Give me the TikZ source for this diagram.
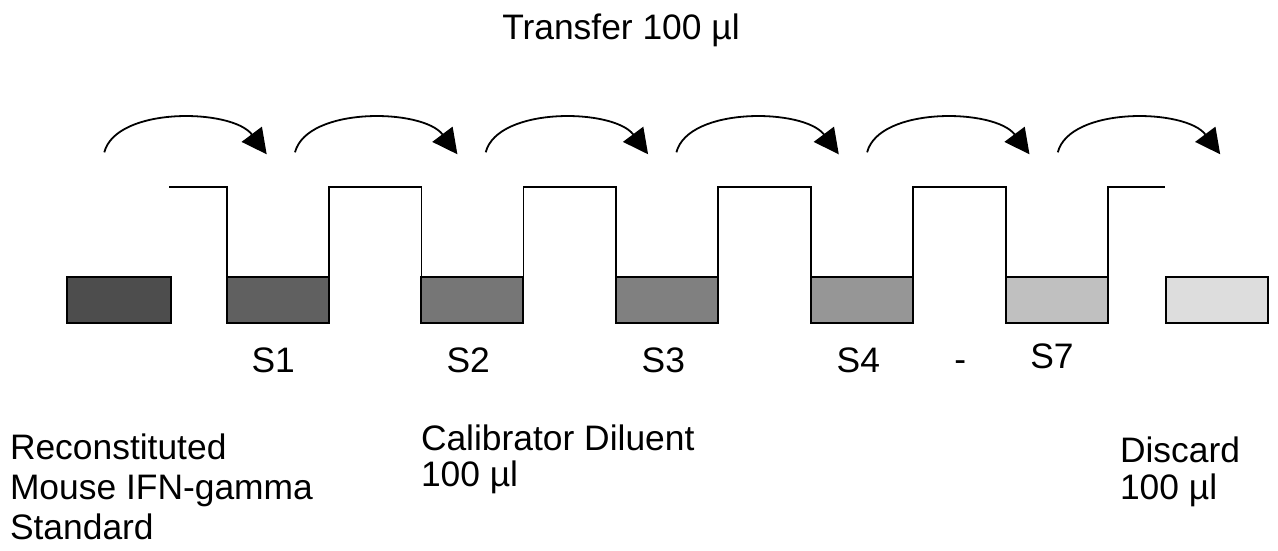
\documentclass[tikz,border=0pt]{standalone}
\usepackage{fontspec}
\setmainfont{Liberation Sans}
\usetikzlibrary{arrows.meta}
\definecolor{c0}{HTML}{4D4D4D}
\definecolor{c1}{HTML}{606060}
\definecolor{c2}{HTML}{767676}
\definecolor{c3}{HTML}{808080}
\definecolor{c4}{HTML}{969696}
\definecolor{c5}{HTML}{C0C0C0}
\definecolor{c6}{HTML}{DDDDDD}
\begin{document}
\begin{tikzpicture}[x=1pt,y=-1pt,
  tube/.style={draw=black, line width=2pt, minimum width=102pt, minimum height=45.4pt, inner sep=0pt, outer sep=0pt},
  well/.style={line width=1.8pt, line join=miter},
  transfer/.style={line width=1.8pt, -{Triangle[length=25pt,width=25pt]}},
  lbl/.style={font=\fontsize{35.4}{40}\selectfont, inner sep=0pt, outer sep=0pt},
  lbltight/.style={lbl, font=\fontsize{35.4}{36.5}\selectfont}]
\useasboundingbox[fill=white] (0,0) rectangle (1278,551);
% tubes
\node[tube, fill=c0, minimum width=103.4pt] (b0) at (119,300) {};
\node[tube, fill=c1] (b1) at (277.7,300) {};
\node[tube, fill=c2] (b2) at (472.4,300) {};
\node[tube, fill=c3] (b3) at (667.2,300) {};
\node[tube, fill=c4] (b4) at (861.9,300) {};
\node[tube, fill=c5] (b5) at (1056.7,300) {};
\node[tube, fill=c6] (b6) at (1217,300) {};
% well outline
\coordinate (w0) at (169.3,186.7);
\coordinate (w1) at (1165,186.7);
\draw[well] (w0) -| (b1.north west) -- (b1.north east) -- (b1.north east |- w0)
  -| (b2.north west) -- (b2.north east) -- (b2.north east |- w0)
  -| (b3.north west) -- (b3.north east) -- (b3.north east |- w0)
  -| (b4.north west) -- (b4.north east) -- (b4.north east |- w0)
  -| (b5.north west) -- (b5.north east) |- (w1);
% transfer arrows
\foreach \i in {0,...,5} {
  \pgfmathsetmacro\s{104.3+190.7*\i}
  \coordinate (a\i) at (\s,152.3);
  \coordinate (t\i) at (\s+162.4,154.3);
  \draw[transfer] (a\i) .. controls +(12,-46) and +(-34.4,-46) .. (t\i);
}
% labels
\node[lbl, anchor=base] (title) at (621,39.3) {Transfer 100 µl};
\node[lbl, anchor=base] (s1) at (273.2,372.3) {S1};
\node[lbl, anchor=base] (s2) at (468.2,372.3) {S2};
\node[lbl, anchor=base] (s3) at (663.3,372.3) {S3};
\node[lbl, anchor=base] (s4) at (858.3,372.3) {S4};
\node[lbl, anchor=base] (dash) at (960.2,371) {-};
\node[lbl, anchor=base] (s7) at (1051.9,368.3) {S7};
\node[lbl, anchor=base west, align=left] (std) at (10,539.3) {Reconstituted\\Mouse IFN-gamma\\Standard};
\node[lbltight, anchor=base west, align=left] (dil) at (421,486.5) {Calibrator Diluent\\100 µl};
\node[lbltight, anchor=base west, align=left] (disc) at (1120,499.3) {Discard\\100 µl};
\end{tikzpicture}
\end{document}
